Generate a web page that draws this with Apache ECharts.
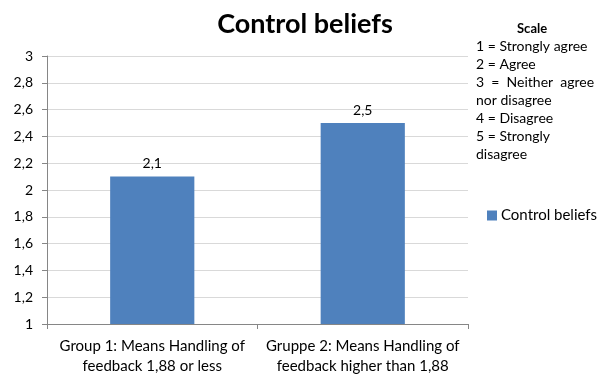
<!DOCTYPE html>
<html>
<head>
<meta charset="utf-8">
<script src="https://cdn.jsdelivr.net/npm/echarts@6/dist/echarts.min.js"></script>
<style>
    html, body { margin: 0; padding: 0; background: #fff; }
    #chart { width: 597px; height: 376px; }
</style>
</head>
<body>
<div id="chart"></div>
<script>
    // data
    var categories = [
        'Group 1: Means Handling of\nfeedback 1,88 or less',
        'Gruppe 2: Means Handling of\nfeedback higher than 1,88'
    ];
    var controlBeliefs = [2.1, 2.5];
    var seriesName = 'Control beliefs';
    var scaleLines = [
        '1 = Strongly agree',
        '2 = Agree',
        '3  =  Neither  agree',
        'nor disagree',
        '4 = Disagree',
        '5 = Strongly',
        'disagree'
    ];

    var font = 'Lato, "Open Sans", sans-serif';
    var toComma = function (v) {
        return String(Math.round(v * 10) / 10).replace('.', ',');
    };

    var chart = echarts.init(document.getElementById('chart'));

    var graphics = [{
        type: 'text',
        left: 517,
        top: 22,
        style: { text: 'Scale', font: 'bold 13px ' + font, fill: '#000' }
    }];
    scaleLines.forEach(function (line, i) {
        graphics.push({
            type: 'text',
            left: 476,
            top: 39 + i * 18,
            style: { text: line, font: '14px ' + font, fill: '#000' }
        });
    });

    chart.setOption({
        animation: false,
        textStyle: { fontFamily: font },
        title: {
            text: 'Control beliefs',
            left: 300,
            top: 6,
            textAlign: 'center',
            textStyle: { fontSize: 27, fontWeight: 'bold', color: '#000', fontFamily: font }
        },
        legend: {
            data: [seriesName],
            left: 482,
            top: 203,
            icon: 'rect',
            itemWidth: 10,
            itemHeight: 10,
            itemGap: 4,
            textStyle: { fontSize: 15, color: '#000', padding: [0, 0, 0, -1] }
        },
        graphic: graphics,
        grid: { left: 47, right: 129, top: 56, bottom: 51 },
        xAxis: {
            type: 'category',
            data: categories,
            axisLine: { lineStyle: { color: '#868686' } },
            axisTick: { show: true, length: 5, lineStyle: { color: '#868686' } },
            axisLabel: { color: '#000', fontSize: 15, lineHeight: 20, margin: 12, interval: 0 }
        },
        yAxis: {
            type: 'value',
            min: 1,
            max: 3,
            interval: 0.2,
            axisLine: { show: true, lineStyle: { color: '#868686' } },
            axisTick: { show: true, length: 5, lineStyle: { color: '#868686' } },
            axisLabel: { color: '#000', fontSize: 14, margin: 14, formatter: toComma },
            splitLine: { lineStyle: { color: '#d9d9d9' } }
        },
        series: [{
            name: seriesName,
            type: 'bar',
            data: controlBeliefs,
            barWidth: '40%',
            itemStyle: { color: '#4f81bd' },
            label: {
                show: true,
                position: 'top',
                distance: 6,
                color: '#000',
                fontSize: 14,
                formatter: function (p) { return toComma(p.value); }
            }
        }]
    });
</script>
</body>
</html>
